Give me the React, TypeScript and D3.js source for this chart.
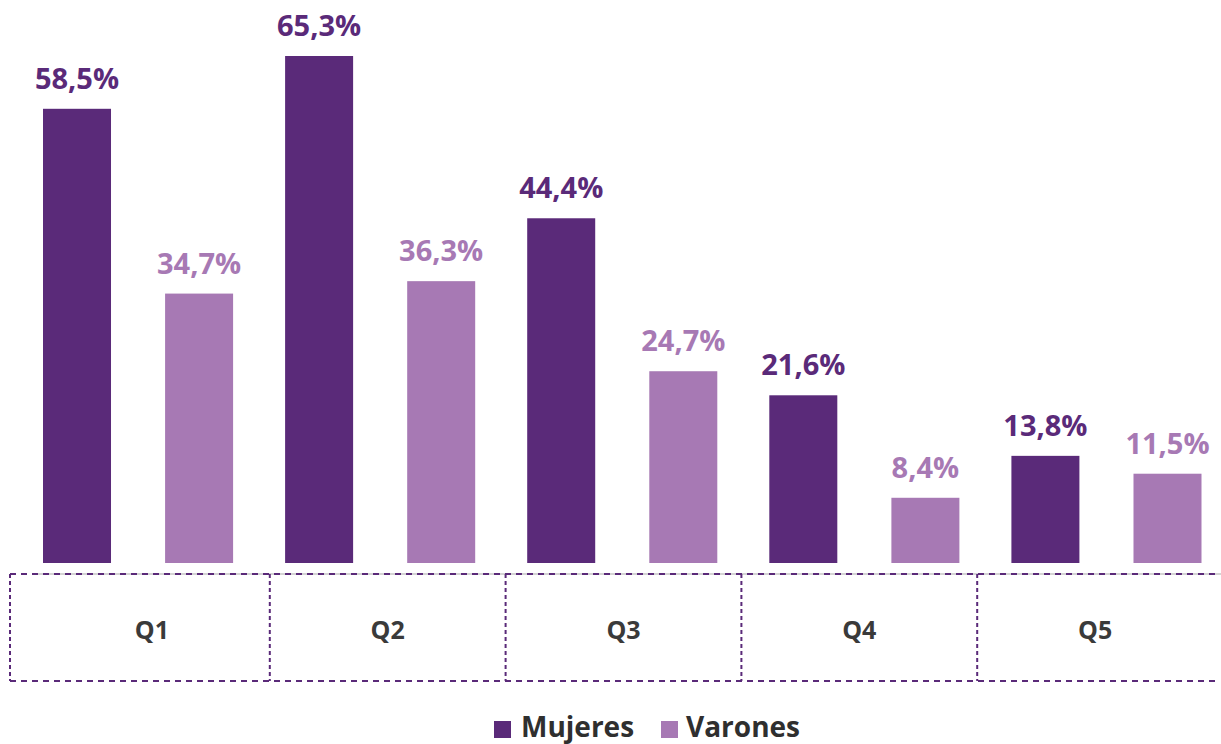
import React from "react";
import * as d3 from "d3";

const categories = ["Q1", "Q2", "Q3", "Q4", "Q5"];
const seriesNames = ["Mujeres", "Varones"];
const mujeres = [58.5, 65.3, 44.4, 21.6, 13.8];
const varones = [34.7, 36.3, 24.7, 8.4, 11.5];
const colors = ["#5a2a79", "#a779b4"];

const W = 1221;
const H = 744;
const FONT = "'Open Sans', sans-serif";

export default function App() {
  const x0 = d3.scaleBand<string>().domain(categories).range([17, 1227.5]).paddingInner(0).paddingOuter(0);
  const x1 = d3.scaleBand<string>().domain(seriesNames).range([0, x0.bandwidth()]).paddingInner(0.443).paddingOuter(0.213);
  const y = d3.scaleLinear().domain([0, 65.3]).range([563, 56]);
  const tableX = d3.scaleBand<string>().domain(categories).range([34, 1213]);
  const fmt = (v: number) => v.toFixed(1).replace(".", ",") + "%";
  const series = [mujeres, varones];

  const tableTop = 574;
  const tableBottom = 681;
  const dividers = categories.slice(1).map((c, i) => {
    const a = tableX(categories[i])! + tableX.bandwidth() / 2;
    const b = tableX(c)! + tableX.bandwidth() / 2;
    return (a + b) / 2;
  });

  return (
    <svg width={W} height={H} style={{ position: "absolute", left: 0, top: 0, background: "#fff" }}>
      {categories.map((c, ci) =>
        seriesNames.map((s, si) => {
          const v = series[si][ci];
          const bx = x0(c)! + x1(s)!;
          return (
            <g key={c + s}>
              <rect x={bx} y={y(v)} width={x1.bandwidth()} height={y(0) - y(v)} fill={colors[si]} />
              <text
                x={bx + x1.bandwidth() / 2}
                y={y(v) - 20}
                textAnchor="middle"
                fontFamily={FONT}
                fontWeight={700}
                fontSize={29}
                fill={colors[si]}
              >
                {fmt(v)}
              </text>
            </g>
          );
        })
      )}
      <line x1={33} x2={W} y1={tableTop} y2={tableTop} stroke="#d4d4d4" strokeWidth={2} />
      <line x1={10} x2={1216} y1={tableTop} y2={tableTop} stroke={colors[0]} strokeWidth={2} strokeDasharray="6,5" />
      <line x1={10} x2={1216} y1={tableBottom} y2={tableBottom} stroke={colors[0]} strokeWidth={2} strokeDasharray="6,5" />
      <line x1={10} x2={10} y1={tableTop} y2={tableBottom} stroke={colors[0]} strokeWidth={2} strokeDasharray="4,3" />
      {dividers.map((d, i) => (
        <line key={i} x1={d} x2={d} y1={tableTop} y2={tableBottom} stroke={colors[0]} strokeWidth={2} strokeDasharray="4,3" />
      ))}
      {categories.map((c) => (
        <text
          key={c}
          x={tableX(c)! + tableX.bandwidth() / 2}
          y={639}
          textAnchor="middle"
          fontFamily={FONT}
          fontWeight={700}
          fontSize={25}
          fill="#3a3a3a"
        >
          {c}
        </text>
      ))}
      <g>
        <rect x={494} y={721} width={17} height={17} fill={colors[0]} />
        <text x={521} y={737} fontFamily={FONT} fontWeight={700} fontSize={28} fill="#2f2f2f">
          {seriesNames[0]}
        </text>
        <rect x={661} y={721} width={17} height={17} fill={colors[1]} />
        <text x={686} y={737} fontFamily={FONT} fontWeight={700} fontSize={28} fill="#2f2f2f">
          {seriesNames[1]}
        </text>
      </g>
    </svg>
  );
}
